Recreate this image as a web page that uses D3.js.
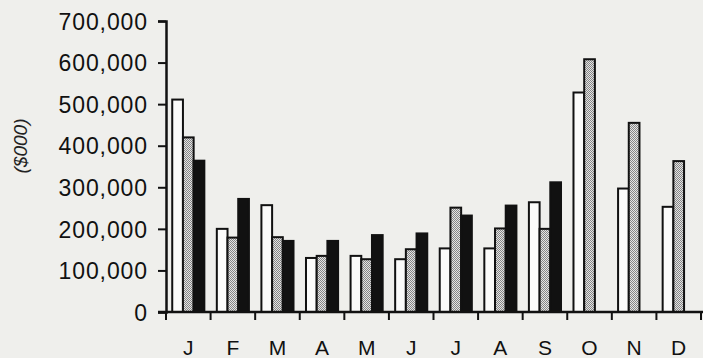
<!DOCTYPE html>
<html>
<head>
<meta charset="utf-8">
<script src="https://cdn.jsdelivr.net/npm/d3@7"></script>
<style>
  body { margin: 0; background: #efefec; }
  svg { display: block; }
  .tick text { font-family: "Liberation Sans", Arial, sans-serif; fill: #111; }
</style>
</head>
<body>
<script>
var width = 703;
var height = 358;

// data
var months = ["J", "F", "M", "A", "M", "J", "J", "A", "S", "O", "N", "D"];
var whiteSeries = [511000, 200000, 257000, 130000, 135000, 127000, 153000, 153000, 264000, 528000, 297000, 253000];
var graySeries  = [420000, 179000, 180000, 135000, 127000, 151000, 251000, 201000, 200000, 608000, 455000, 363000];
var blackSeries = [364000, 272000, 171000, 171000, 185000, 189000, 232000, 256000, 312000, null, null, null];
var yTicks = [0, 100000, 200000, 300000, 400000, 500000, 600000, 700000];

var margin = {top: 21, right: 2, bottom: 46, left: 166};

var svg = d3.select("body").append("svg")
    .attr("width", width)
    .attr("height", height);

// stipple pattern for the grey bars
var defs = svg.append("defs");
var pat = defs.append("pattern")
    .attr("id", "stipple")
    .attr("width", 2)
    .attr("height", 2)
    .attr("patternUnits", "userSpaceOnUse");
pat.append("rect").attr("width", 2).attr("height", 2).attr("fill", "#e4e4e4");
pat.append("rect").attr("width", 1).attr("height", 1).attr("fill", "#858585");
pat.append("rect").attr("x", 1).attr("y", 1).attr("width", 1).attr("height", 1).attr("fill", "#858585");

var x = d3.scaleBand()
    .domain(d3.range(months.length))
    .range([margin.left, width - margin.right])
    .paddingInner(0.28)
    .paddingOuter(0.14);

var inner = d3.scaleBand()
    .domain([0, 1, 2])
    .range([0, x.bandwidth()]);

var y = d3.scaleLinear()
    .domain([0, 700000])
    .range([height - margin.bottom, margin.top]);

var series = [
    {values: whiteSeries, fill: "#fbfbfa"},
    {values: graySeries, fill: "url(#stipple)"},
    {values: blackSeries, fill: "#111"}
];

// bars
series.forEach(function(s, si) {
    svg.append("g")
        .selectAll("rect")
        .data(s.values.map(function(v, i) { return {i: i, v: v}; }).filter(function(d) { return d.v != null; }))
        .enter()
        .append("rect")
        .attr("x", function(d) { return x(d.i) + inner(si); })
        .attr("y", function(d) { return y(d.v); })
        .attr("width", inner.bandwidth())
        .attr("height", function(d) { return y(0) - y(d.v); })
        .attr("fill", s.fill)
        .attr("stroke", "#111")
        .attr("stroke-width", 2);
});

// y axis
var yAxis = svg.append("g")
    .attr("transform", "translate(" + margin.left + ",0)")
    .call(d3.axisLeft(y).tickValues(yTicks).tickFormat(d3.format(",")).tickSize(8).tickPadding(10));
yAxis.select(".domain").attr("stroke", "#111").attr("stroke-width", 2.5);
yAxis.selectAll(".tick line").attr("stroke", "#111").attr("stroke-width", 2);
yAxis.selectAll(".tick text")
    .style("font-size", "23px")
    .style("letter-spacing", "0.9px")
    .attr("dy", "0.36em");

// x axis: ticks sit on the month boundaries
var bounds = d3.range(months.length + 1).map(function(i) { return margin.left + i * (width - margin.right - margin.left) / months.length; });
var xAxis = svg.append("g");
xAxis.append("line")
    .attr("x1", margin.left - 8)
    .attr("x2", width)
    .attr("y1", y(0))
    .attr("y2", y(0))
    .attr("stroke", "#111")
    .attr("stroke-width", 2.5);
xAxis.selectAll(".xt")
    .data(bounds)
    .enter()
    .append("line")
    .attr("x1", function(d) { return d; })
    .attr("x2", function(d) { return d; })
    .attr("y1", y(0))
    .attr("y2", y(0) + 8)
    .attr("stroke", "#111")
    .attr("stroke-width", 2);
xAxis.selectAll(".xl")
    .data(months)
    .enter()
    .append("text")
    .attr("x", function(d, i) { return (bounds[i] + bounds[i + 1]) / 2; })
    .attr("y", 355)
    .attr("text-anchor", "middle")
    .style("font-family", "Liberation Sans, Arial, sans-serif")
    .style("font-size", "21px")
    .style("fill", "#111")
    .text(function(d) { return d; });

// y axis title
svg.append("text")
    .attr("transform", "translate(27,146) rotate(-90)")
    .attr("text-anchor", "middle")
    .style("font-family", "Liberation Sans, Arial, sans-serif")
    .style("font-style", "italic")
    .style("font-size", "19px")
    .style("fill", "#222")
    .text("($000)");
</script>
</body>
</html>
